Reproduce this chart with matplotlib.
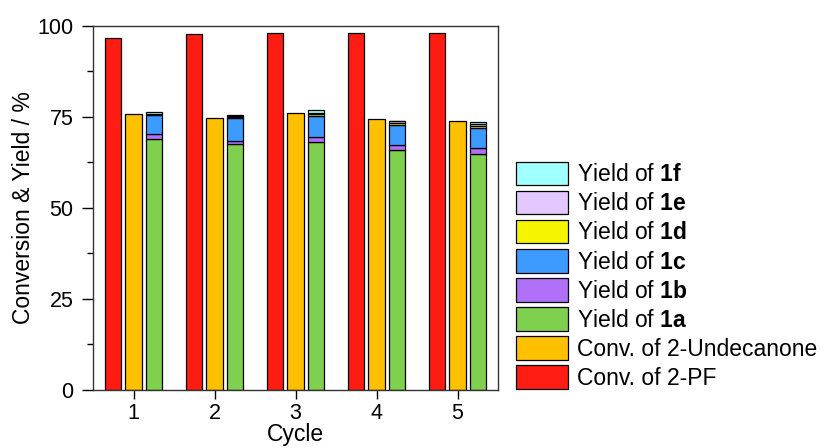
import numpy as np
import matplotlib
matplotlib.use('Agg')
import matplotlib.pyplot as plt
from matplotlib.ticker import MultipleLocator

plt.rcParams['font.family'] = ['Liberation Sans', 'DejaVu Sans']
plt.rcParams['mathtext.fontset'] = 'custom'
plt.rcParams['mathtext.bf'] = 'Liberation Sans:bold'
plt.rcParams['mathtext.rm'] = 'Liberation Sans'

# Data
cycles = [1, 2, 3, 4, 5]
conv_pf = [96.7, 97.9, 98.0, 98.2, 98.1]
conv_undecanone = [75.7, 74.6, 76.2, 74.4, 74.0]
yield_1a = [69.0, 67.5, 68.1, 65.9, 64.9]
yield_1b = [1.3, 1.0, 1.3, 1.3, 1.7]
yield_1c = [5.2, 6.1, 6.0, 5.6, 5.4]
yield_1d = [0.2, 0.3, 0.4, 0.5, 0.5]
yield_1e = [0.2, 0.3, 0.4, 0.5, 0.5]
yield_1f = [0.4, 0.4, 0.6, 0.2, 0.5]

fig = plt.figure(figsize=(8.26, 4.48), dpi=100)
ax = fig.add_axes([0.1126, 0.1295, 0.4904, 0.8125])

x = np.array(cycles, dtype=float)
w = 0.2
ekw = dict(edgecolor='black', linewidth=0.9)

h_pf = ax.bar(x - 0.25, conv_pf, w, color='#FF1C12', label='Conv. of 2-PF', **ekw)
h_un = ax.bar(x, conv_undecanone, w, color='#FFC000', label='Conv. of 2-Undecanone', **ekw)

stack = [
    (yield_1a, '#80D050', 'Yield of $\\mathbf{1a}$'),
    (yield_1b, '#B070F8', 'Yield of $\\mathbf{1b}$'),
    (yield_1c, '#3D9BFF', 'Yield of $\\mathbf{1c}$'),
    (yield_1d, '#F5F500', 'Yield of $\\mathbf{1d}$'),
    (yield_1e, '#E2C8FF', 'Yield of $\\mathbf{1e}$'),
    (yield_1f, '#A0FFFF', 'Yield of $\\mathbf{1f}$'),
]
bottom = np.zeros(len(cycles))
handles = [h_pf, h_un]
for vals, col, lab in stack:
    h = ax.bar(x + 0.25, vals, w, bottom=bottom, color=col, label=lab, **ekw)
    handles.append(h)
    bottom += np.array(vals)

ax.set_xlim(0.5, 5.5)
ax.set_ylim(0, 100)
ax.set_xticks(cycles)
ax.yaxis.set_major_locator(MultipleLocator(25))
ax.yaxis.set_minor_locator(MultipleLocator(12.5))
ax.tick_params(axis='y', which='major', direction='out', length=8, width=1, labelsize=15.5, pad=6)
ax.tick_params(axis='x', which='major', direction='out', length=6.5, width=1, labelsize=15.5, pad=3)
ax.tick_params(axis='y', which='minor', direction='out', length=4, width=1)
for s in ax.spines.values():
    s.set_linewidth(1)
    s.set_color('#333333')
ax.set_xlabel('Cycle', fontsize=16.5, labelpad=-1)
ax.set_ylabel('Conversion & Yield / %', fontsize=16.5, labelpad=2)

handles = handles[::-1]
labels = [h.get_label() for h in handles]
fig.legend(handles, labels, loc='lower left', bbox_to_anchor=(0.625, 0.13),
           frameon=False, fontsize=16.5, handlelength=2.25, handleheight=1.2,
           labelspacing=0.2, handletextpad=0.4, borderpad=0, borderaxespad=0)

fig.savefig('out.png', dpi=100)
